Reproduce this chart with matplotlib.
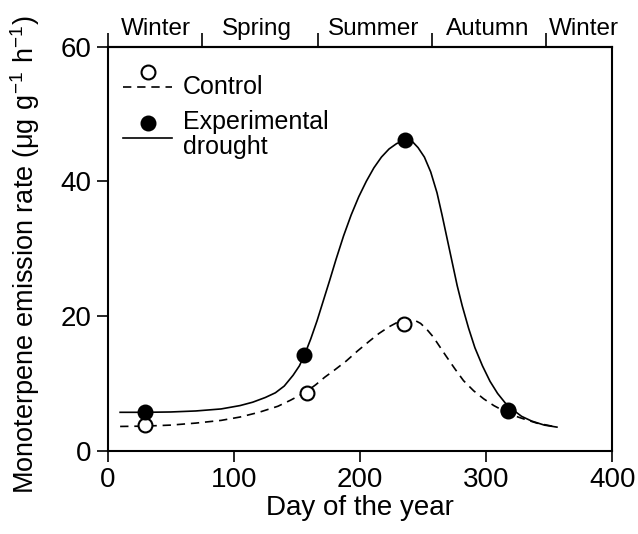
import matplotlib
matplotlib.use("Agg")
from matplotlib import pyplot as plt

plt.rcParams['font.family'] = ['Liberation Sans', 'DejaVu Sans']

# Measured points (day of year, emission rate)
control_day = [30, 158, 235, 317]
control_rate = [3.8, 8.6, 18.8, 5.9]
drought_day = [30, 156, 236, 317]
drought_rate = [5.7, 14.2, 46.1, 6.0]

# Fitted curves
control_fit_day = [10, 30, 50, 70, 90, 105, 120, 135, 145, 157, 165, 172, 180, 189,
                   198, 207, 215, 223, 230, 237, 243, 248, 253, 258, 263, 268, 275,
                   282, 290, 298, 306, 314, 322, 330, 340, 348, 356]
control_fit_rate = [3.6, 3.65, 3.8, 4.1, 4.5, 5.0, 5.7, 6.6, 7.5, 8.7, 9.8, 10.9,
                    12.0, 13.3, 14.8, 16.2, 17.4, 18.4, 19.1, 19.4, 19.4, 18.9, 18.0,
                    16.9, 15.5, 14.1, 12.2, 10.4, 8.9, 7.7, 6.7, 5.9, 5.2, 4.7, 4.1,
                    3.8, 3.5]
drought_fit_day = [10, 30, 50, 70, 90, 105, 115, 125, 133, 140, 147, 152, 156, 161,
                   166, 171, 176, 181, 187, 193, 199, 205, 211, 217, 223, 229, 236,
                   241, 246, 251, 256, 261, 265, 269, 273, 277, 281, 286, 291, 297,
                   303, 309, 315, 321, 328, 336, 346, 356]
drought_fit_rate = [5.7, 5.7, 5.75, 5.9, 6.2, 6.7, 7.2, 7.9, 8.6, 9.6, 11.2, 12.6,
                    14.2, 16.6, 19.3, 22.3, 25.3, 28.4, 31.9, 35.0, 37.7, 40.0, 42.0,
                    43.6, 44.8, 45.6, 46.1, 46.0, 45.0, 43.6, 41.4, 38.3, 35.0, 31.5,
                    28.0, 24.5, 21.5, 18.2, 15.3, 12.6, 10.3, 8.5, 7.1, 6.1, 5.1, 4.4,
                    3.8, 3.5]

# Seasons along the top axis
season_edges = [0, 75, 167, 257, 347]
season_centres = [38, 118, 211, 301, 377]
season_names = ["Winter", "Spring", "Summer", "Autumn", "Winter"]

fig = plt.figure(figsize=(6.38, 5.34), dpi=100)
ax = fig.add_axes([0.1685, 0.156, 0.7915, 0.7567])

ax.plot(control_fit_day, control_fit_rate, color='black', lw=1.2, ls=(0, (5, 3.5)))
ax.plot(drought_fit_day, drought_fit_rate, color='black', lw=1.2)
ax.plot(control_day, control_rate, 'o', ms=10, mfc='white', mec='black', mew=1.5)
ax.plot(drought_day, drought_rate, 'o', ms=10, mfc='black', mec='black', mew=1.5)

ax.set_xlim(0, 400)
ax.set_ylim(0, 60)
ax.set_xticks([0, 100, 200, 300, 400])
ax.set_yticks([0, 20, 40, 60])
ax.tick_params(direction='out', length=8, width=1.2, labelsize=20)
for s in ax.spines.values():
    s.set_linewidth(1.5)
ax.set_xlabel("Day of the year", fontsize=20, labelpad=2)
ax.set_ylabel(r"Monoterpene emission rate ($\mathregular{\mu g\ g^{-1}\ h^{-1}}$)",
              fontsize=19.5)
ax.yaxis.set_label_coords(-0.13, 0.485)

top = ax.secondary_xaxis('top')
top.set_xticks(season_edges)
top.set_xticklabels([])
top.set_xticks(season_centres, minor=True)
top.set_xticklabels(season_names, minor=True, fontsize=17.5)
top.tick_params(which='major', direction='out', length=10, width=1.2)
top.tick_params(which='minor', length=0, pad=5)
top.spines['top'].set_linewidth(1.5)

# Legend drawn in axes fraction
ax.plot([0.08], [0.938], 'o', ms=10, mfc='white', mec='black', mew=1.5,
        transform=ax.transAxes)
ax.plot([0.031, 0.128], [0.9, 0.9], color='black', lw=1.2, ls=(0, (5, 3.5)),
        transform=ax.transAxes)
ax.text(0.15, 0.9, "Control", fontsize=18, va='center', transform=ax.transAxes)
ax.plot([0.08], [0.81], 'o', ms=10, mfc='black', mec='black', mew=1.5,
        transform=ax.transAxes)
ax.plot([0.031, 0.128], [0.773, 0.773], color='black', lw=1.2,
        transform=ax.transAxes)
ax.text(0.15, 0.783, "Experimental\ndrought", fontsize=18, va='center',
        linespacing=1.05, transform=ax.transAxes)

fig.savefig("out.png", dpi=100)
